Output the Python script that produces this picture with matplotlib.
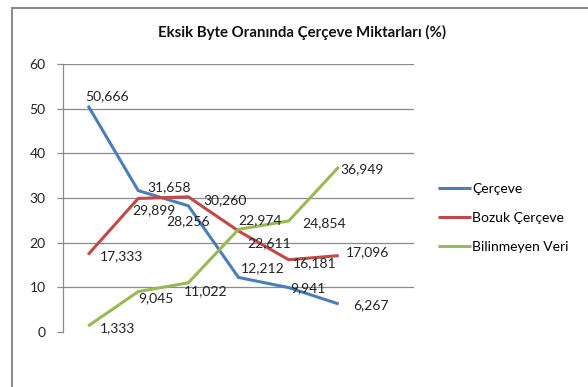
import matplotlib
matplotlib.use("Agg")
import matplotlib.pyplot as plt
from matplotlib.patches import Rectangle

plt.rcParams['font.family'] = ['Lato', 'DejaVu Sans']

title = "Eksik Byte Oranında Çerçeve Miktarları (%)"
series_names = ["Çerçeve", "Bozuk Çerçeve", "Bilinmeyen Veri"]
cerceve = [50.666, 31.658, 28.256, 12.212, 9.941, 6.267]
bozuk = [17.333, 29.899, 30.260, 22.611, 16.181, 17.096]
bilinmeyen = [1.333, 9.045, 11.022, 22.974, 24.854, 36.949]
n_slots = 7
yticks = [0, 10, 20, 30, 40, 50, 60]

colors = ["#4A7EBB", "#BE4B48", "#98B954"]

# label nudges in pixels (dx to label left edge, dy upward), per series
nudges = [
    [(-3, 10), (9, 3), (-22, -15), (2, 9), (2, -1), (14, -1)],
    [(12, -2), (-6, -12), (15, -3), (9, -12), (4, -3), (7, 3)],
    [(12, -2), (0, -7), (-4, -8), (0, 9), (14, -2), (2, -2)],
]

W, H = 588, 387
fig = plt.figure(figsize=(W / 100, H / 100), dpi=100)
fig.patch.set_facecolor("white")

# outer chart border (extends past the image on right/bottom)
fig.patches.append(Rectangle((12 / W, -0.1), 1.2, (H - 8) / H + 0.1,
                             transform=fig.transFigure, fill=False,
                             edgecolor="#8c8c8c", linewidth=1.5, clip_on=False))

ax = fig.add_axes([63 / W, 1 - 332 / H, (414 - 63) / W, (332 - 64) / H])
ax.set_xlim(-0.5, n_slots - 0.5)
ax.set_ylim(0, 60)
ax.set_yticks(yticks)
ax.set_yticklabels([str(t) for t in yticks])
ax.set_xticks([])
for t in yticks[1:]:
    ax.axhline(t, color="#8a8a8a", linewidth=0.9, zorder=0)
for s in ["top", "right", "bottom"]:
    ax.spines[s].set_visible(False)
ax.spines["left"].set_color("#8a8a8a")
ax.spines["left"].set_linewidth(0.9)
ax.tick_params(axis="y", length=4.5, width=0.9, color="#8a8a8a", pad=8,
               labelsize=10, labelcolor="#222222")

all_series = [cerceve, bozuk, bilinmeyen]
for vals, name, col, nd in zip(all_series, series_names, colors, nudges):
    xs = list(range(len(vals)))
    ax.plot(xs, vals, color=col, linewidth=2.2, label=name, solid_capstyle="butt",
            solid_joinstyle="miter")
    for x, v, (dx, dy) in zip(xs, vals, nd):
        ax.annotate(f"{v:.3f}".replace(".", ","), (x, v), xytext=(dx, dy),
                    textcoords="offset pixels", ha="left", va="center",
                    fontsize=10, color="#222222")

fig.text(302 / W, 1 - 32 / H, title, ha="center", va="center",
         fontsize=10.8, fontweight="bold", color="#111111")

leg = fig.legend(loc="upper left", bbox_to_anchor=(432 / W, 1 - 177 / H),
                 frameon=False, fontsize=10, handlelength=2.4, handletextpad=0.1,
                 labelspacing=1.25, borderaxespad=0)

fig.savefig("out.png", dpi=100)
